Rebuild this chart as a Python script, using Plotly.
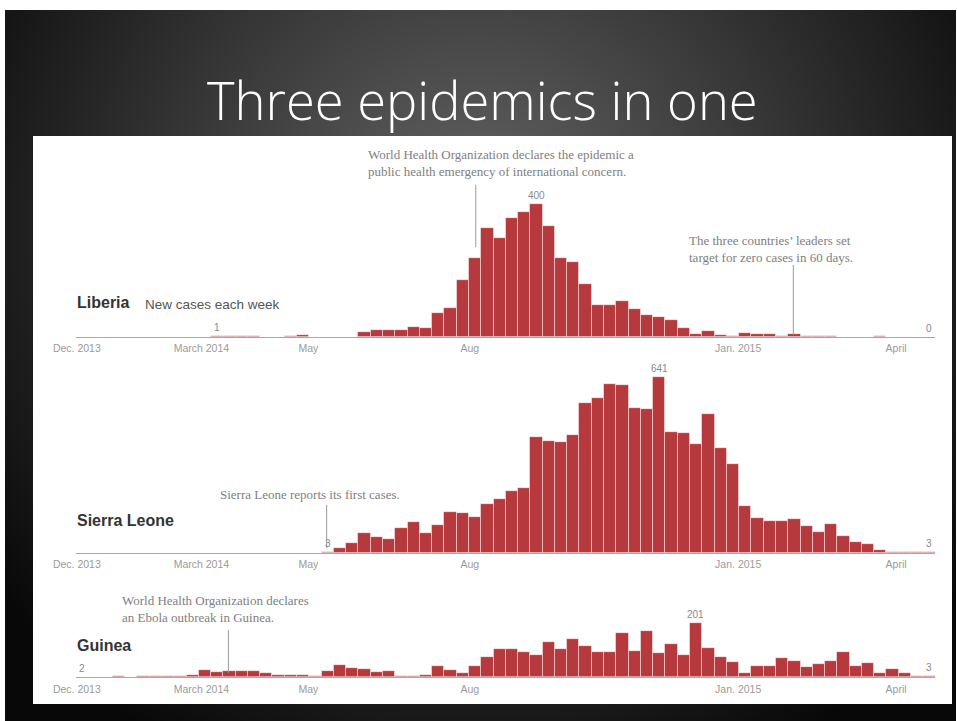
import base64
import pandas as pd
import plotly.graph_objects as go

# ---------------------------------------------------------------- data
# Weekly new Ebola cases, weeks starting Monday 16 Dec 2013 .. 13 Apr 2015
week_starts = pd.date_range("2013-12-16", "2015-04-13", freq="7D")

liberia = [
    0, 0, 0, 0, 0, 0, 0, 0, 0, 0,
    0, 1, 2, 3, 1, 0, 0, 1, 4, 0,
    0, 0, 0, 13, 20, 20, 19, 29, 25, 71,
    88, 170, 239, 327, 297, 358, 376, 400, 335, 237,
    227, 158, 96, 96, 108, 83, 65, 60, 50, 27,
    9, 18, 5, 2, 11, 7, 7, 2, 8, 3,
    1, 1, 0, 0, 0, 1, 0, 0, 0, 0,
]
sierra_leone = [
    0, 0, 0, 0, 0, 0, 0, 0, 0, 0,
    0, 0, 0, 0, 0, 0, 0, 0, 0, 0,
    3, 18, 34, 70, 58, 50, 91, 110, 73, 101,
    147, 146, 131, 176, 196, 225, 237, 422, 407, 402,
    429, 546, 562, 613, 610, 526, 524, 641, 438, 436,
    396, 504, 380, 322, 170, 127, 116, 114, 122, 98,
    75, 104, 61, 40, 32, 10, 4, 3, 2, 3,
]
guinea = [
    2, 1, 2, 3, 2, 3, 4, 3, 4, 8,
    28, 20, 25, 25, 25, 16, 8, 7, 7, 5,
    25, 45, 33, 30, 18, 25, 5, 4, 7, 40,
    28, 15, 42, 74, 103, 103, 94, 81, 131, 103,
    143, 115, 94, 94, 162, 97, 170, 91, 123, 82,
    201, 109, 76, 55, 17, 43, 43, 70, 60, 37,
    49, 60, 94, 43, 52, 15, 29, 15, 5, 3,
]

countries = ["Liberia", "Sierra Leone", "Guinea"]
series = [liberia, sierra_leone, guinea]

tick_dates = ["2013-12-20", "2014-03-01", "2014-05-01", "2014-08-01", "2015-01-01", "2015-04-01"]
tick_text = ["Dec. 2013", "March 2014", "May", "Aug", "Jan. 2015", "April"]

notes = [
    # (row, date of leader line, text)
    (0, "2014-08-01", "World Health Organization declares the epidemic a<br>public health emergency of international concern."),
    (0, "2015-01-29", "The three countries\u2019 leaders set<br>target for zero cases in 60 days."),
    (1, "2014-05-08", "Sierra Leone reports its first cases."),
    (2, "2014-03-13", "World Health Organization declares<br>an Ebola outbreak in Guinea."),
]

# ---------------------------------------------------------------- layout helpers
W, H = 957, 721
BAR = "#b5393d"
WEEK_MS = 7 * 24 * 3600 * 1000
HALF_WEEK = pd.Timedelta(days=3.5)


def px(xp):
    return xp / W


def py(yp):
    return 1 - yp / H


x_range = ["2013-12-16", "2015-04-20"]
x_dom = [px(75.8), px(935.4)]

# (baseline px, top px, y-range max) for each row
rows = [
    (336.7, 150.0, 564),
    (552.7, 370.0, 665),
    (677.3, 600.0, 285),
]
label_y = [302, 520, 645]

fig = go.Figure()

for i, (name, vals) in enumerate(zip(countries, series)):
    sfx = "" if i == 0 else str(i + 1)
    fig.add_trace(go.Bar(
        x=week_starts, y=vals, offset=0, width=WEEK_MS,
        marker=dict(color=BAR, line=dict(color="rgba(255,255,255,0.75)", width=0.6)),
        xaxis="x" + sfx, yaxis="y" + sfx, hoverinfo="skip", showlegend=False,
    ))
    base, top, ymax = rows[i]
    fig.layout["xaxis" + sfx] = dict(
        domain=x_dom, range=x_range, type="date", anchor="y" + sfx,
        tickvals=tick_dates, ticktext=tick_text, ticks="",
        showline=True, linecolor="#a8a8a8", linewidth=1,
        showgrid=False, zeroline=False, fixedrange=True, automargin=False,
        tickfont=dict(family="Liberation Sans, Arial, sans-serif", size=10.5, color="#9a9a9a"),
        ticklabelshift=-6, ticklabelstandoff=2,
    )
    fig.layout["yaxis" + sfx] = dict(
        domain=[py(base), py(top)], range=[0, ymax], anchor="x" + sfx,
        visible=False, fixedrange=True, automargin=False,
    )

    # country name
    fig.add_annotation(
        text="<b>%s</b>" % name, xref="paper", yref="paper", x=px(75), y=py(label_y[i]),
        xanchor="left", yanchor="middle", showarrow=False,
        font=dict(family="Liberation Sans, Arial, sans-serif", size=16, color="#333333"),
    )

    # first, peak and last value labels
    nz = [j for j, v in enumerate(vals) if v > 0]
    peak = max(range(len(vals)), key=lambda j: vals[j])
    for j in (nz[0], peak, len(vals) - 1):
        fig.add_annotation(
            text=str(vals[j]), xref="x" + sfx, yref="y" + sfx,
            x=week_starts[j] + HALF_WEEK, y=vals[j], yanchor="bottom", yshift=1,
            showarrow=False,
            font=dict(family="Liberation Sans, Arial, sans-serif", size=10, color="#8a8a8a"),
        )

fig.add_annotation(
    text="New cases each week", xref="paper", yref="paper", x=px(143), y=py(304),
    xanchor="left", yanchor="middle", showarrow=False,
    font=dict(family="Liberation Sans, Arial, sans-serif", size=13.5, color="#555555"),
)

# event notes with leader lines
note_geom = [
    # text left px, text centre px, line top px, line bottom px
    (366, 162.5, 185, 247),
    (687, 248.5, 265, 335),
    (218, 494.0, 505, 548),
    (120, 608.5, 630, 673),
]
for (row, date, text), (tx, ty, l0, l1) in zip(notes, note_geom):
    sfx = "" if row == 0 else str(row + 1)
    fig.add_annotation(
        text=text, xref="paper", yref="paper", x=px(tx), y=py(ty),
        xanchor="left", yanchor="middle", align="left", showarrow=False,
        font=dict(family="Liberation Serif, Georgia, serif", size=13, color="#808080"),
    )
    fig.add_shape(
        type="line", xref="x" + sfx, yref="paper", x0=date, x1=date,
        y0=py(l1), y1=py(l0), line=dict(color="#9a9a9a", width=1),
    )

# slide title
fig.add_annotation(
    text="Three epidemics in one", xref="paper", yref="paper", x=px(483), y=py(100),
    xanchor="center", yanchor="middle", showarrow=False,
    font=dict(family="Open Sans, sans-serif", size=52.5, color="#ffffff", weight=300),
)

# white chart panel
fig.add_shape(
    type="rect", xref="paper", yref="paper", x0=px(33), x1=px(952), y0=py(704), y1=py(136),
    fillcolor="#ffffff", line=dict(width=0), layer="below",
)

# dark radial-gradient slide background
sw, sh = 951, 711
svg = (
    '<svg xmlns="http://www.w3.org/2000/svg" width="%d" height="%d" viewBox="0 0 %d %d" preserveAspectRatio="none">'
    '<defs><radialGradient id="g" gradientUnits="userSpaceOnUse" cx="473" cy="220" r="600">'
    '<stop offset="0" stop-color="#666666"/><stop offset="1" stop-color="#080808"/>'
    '</radialGradient></defs><rect width="%d" height="%d" fill="url(#g)"/></svg>'
) % (sw, sh, sw, sh, sw, sh)
uri = "data:image/svg+xml;base64," + base64.b64encode(svg.encode()).decode()
fig.add_layout_image(
    source=uri, xref="paper", yref="paper", x=px(5), y=py(10), sizex=px(sw), sizey=sh / H,
    xanchor="left", yanchor="top", sizing="stretch", layer="below",
)

fig.update_layout(
    template="none",
    width=W, height=H, margin=dict(l=0, r=0, t=0, b=0, pad=0, autoexpand=False),
    paper_bgcolor="#ffffff", plot_bgcolor="rgba(0,0,0,0)",
    bargap=0, showlegend=False,
)

fig.write_html("out.html")
